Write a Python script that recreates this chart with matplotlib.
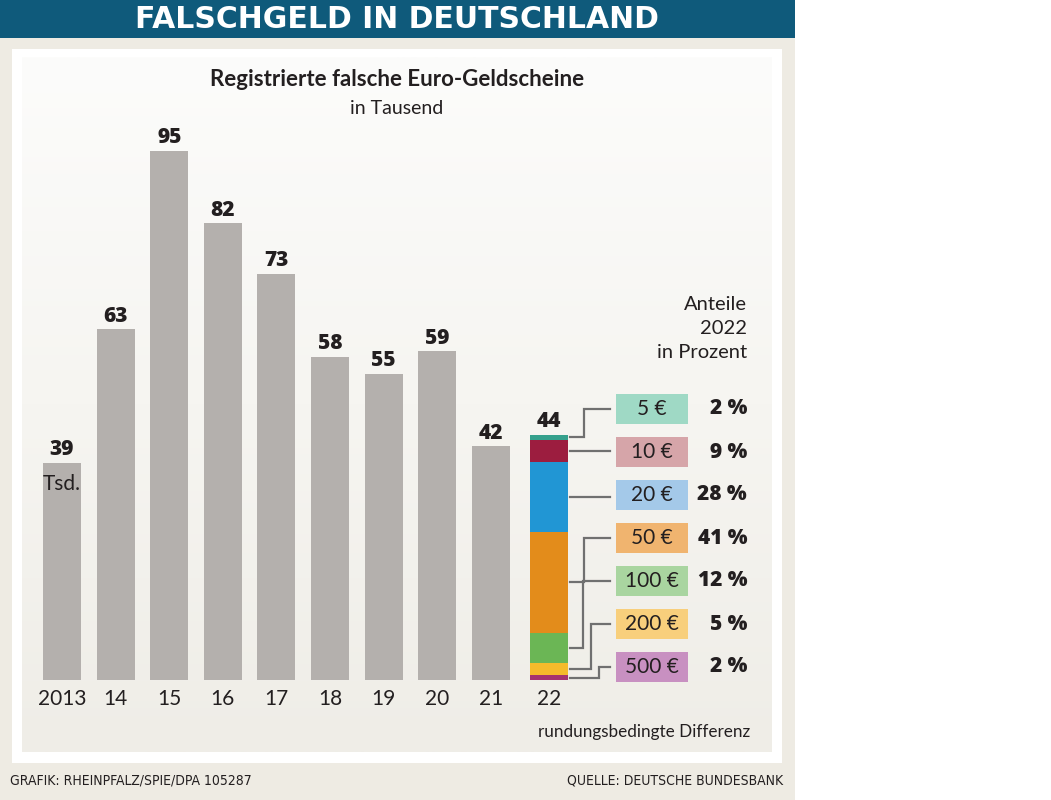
import numpy as np
import matplotlib
matplotlib.use('Agg')
import matplotlib.pyplot as plt
from matplotlib.patches import Rectangle
from matplotlib.colors import LinearSegmentedColormap

plt.rcParams['font.family'] = ['Lato', 'DejaVu Sans']

# data
years = ['2013', '14', '15', '16', '17', '18', '19', '20', '21', '22']
values = [39, 63, 95, 82, 73, 58, 55, 59, 42, 44]
denoms = ['5 €', '10 €', '20 €', '50 €', '100 €', '200 €', '500 €']   # top -> bottom
shares = [2, 9, 28, 41, 12, 5, 2]
seg_colors = ['#35a08c', '#9c1d3f', '#2196d4', '#e38c1b', '#6bb655', '#f5bb2b', '#a5346f']
box_colors = ['#9fd9c5', '#d6a5a9', '#a4c9e9', '#f0b46f', '#a9d5a0', '#f8cf7c', '#c890c1']

W, H = 1051, 800
txt = '#231f20'
heavy = dict(family=['Open Sans', 'Lato', 'DejaVu Sans'], fontweight=800)
narrow = dict(family=['DejaVu Sans'], fontstretch='condensed')

fig = plt.figure(figsize=(W / 100, H / 100), dpi=100)

# pixel overlay for the frame / titles
pa = fig.add_axes([0, 0, 1, 1], zorder=0)
pa.axis('off')
pa.add_patch(Rectangle((0, 0), 795, H, color='#eeebe3', lw=0))
pa.add_patch(Rectangle((0, 0), 795, 38, color='#0f5a7b', lw=0))
pa.add_patch(Rectangle((12, 49), 770, 714, color='white', lw=0))
grad = np.linspace(0, 1, 256)[:, None]
cm = LinearSegmentedColormap.from_list('bg', ['#fcfcfb', '#f6f5f1', '#efede7'])
pa.imshow(grad, extent=[22, 772, 752, 57], cmap=cm, aspect='auto', zorder=1)
pa.set_xlim(0, W)
pa.set_ylim(H, 0)

pa.text(397, 20, 'FALSCHGELD IN DEUTSCHLAND', color='white', fontsize=21.5,
        fontweight='bold', family='DejaVu Sans', ha='center', va='center', zorder=3)
pa.text(397, 80, 'Registrierte falsche Euro-Geldscheine', fontsize=16, fontweight='bold',
        color=txt, ha='center', va='center', zorder=3)
pa.text(397, 109, 'in Tausend', fontsize=14, color=txt, ha='center', va='center', zorder=3)
pa.text(747, 329, 'Anteile\n2022\nin Prozent', fontsize=14.5, color=txt, ha='right',
        va='center', linespacing=1.5, zorder=3)
pa.text(750, 732, 'rundungsbedingte Differenz', fontsize=12.3, color=txt, ha='right',
        va='center', zorder=3)
pa.text(10, 780, 'GRAFIK: RHEINPFALZ/SPIE/DPA 105287', fontsize=10, color=txt,
        ha='left', va='center', zorder=3, **narrow)
pa.text(783, 780, 'QUELLE: DEUTSCHE BUNDESBANK', fontsize=10, color=txt,
        ha='right', va='center', zorder=3, **narrow)

# bar axes: 0 at px 680, 5.568 px per unit; slot 53.6 px, first bar at px 62
ppu, slot = 5.568, 53.6
ax = fig.add_axes([0, 0, 1, 1], zorder=2)
ax.patch.set_alpha(0)
ax.axis('off')
ax.set_ylim(-(H - 680) / ppu, 680 / ppu)
ax.set_xlim(-62 / slot, (W - 62) / slot)

xpos = np.arange(len(years), dtype=float)
xpos[-1] += 0.08
bw = 38 / slot

ax.bar(xpos[:-1], values[:-1], width=bw, color='#b4b0ad', lw=0)

# stacked 2022 bar
seg = np.array(shares[::-1], dtype=float) / sum(shares) * values[-1]
bottoms = np.concatenate([[0], np.cumsum(seg)[:-1]])
ax.bar([xpos[-1]] * len(seg), seg, bottom=bottoms, width=bw, color=seg_colors[::-1], lw=0)
mids = (bottoms + seg / 2)[::-1]   # top -> bottom order

for x, v, lab in zip(xpos, values, years):
    ax.annotate(str(v), (x, v), xytext=(0, 5.5), textcoords='offset points', ha='center',
                va='baseline', fontsize=15, color=txt, **heavy)
    ax.annotate(lab, (x, 0), xytext=(0, -14), textcoords='offset points', ha='center',
                va='center', fontsize=15, color=txt)
ax.annotate('Tsd.', (xpos[0], values[0]), xytext=(0, -15), textcoords='offset points',
            ha='center', va='center', fontsize=15, color=txt)

# legend boxes + connectors (pixel overlay)
to_px = ax.transData + pa.transData.inverted()
bar_right = to_px.transform((xpos[-1] + bw / 2, 0))[0]
elbow_x = [584, None, None, 584, 583, 591, 599]
for k, (d, p, bc) in enumerate(zip(denoms, shares, box_colors)):
    cy = 409 + 43 * k
    pa.add_patch(Rectangle((616, cy - 15), 72, 30, color=bc, lw=0, zorder=3))
    pa.text(652, cy, d, fontsize=15, color=txt, ha='center', va='center', zorder=4)
    pa.text(747, cy, f'{p} %', fontsize=15, color=txt, ha='right', va='center', zorder=4,
            **heavy)
    sy = to_px.transform((0, mids[k]))[1]
    ex = elbow_x[k]
    if ex is None:
        xs, ys = [bar_right + 2, 610], [sy, sy]
    else:
        xs, ys = [bar_right + 2, ex, ex, 610], [sy, sy, cy, cy]
    pa.plot(xs, ys, color='#707070', lw=1.6, zorder=3, solid_joinstyle='miter')

fig.savefig('out.png', dpi=100)
